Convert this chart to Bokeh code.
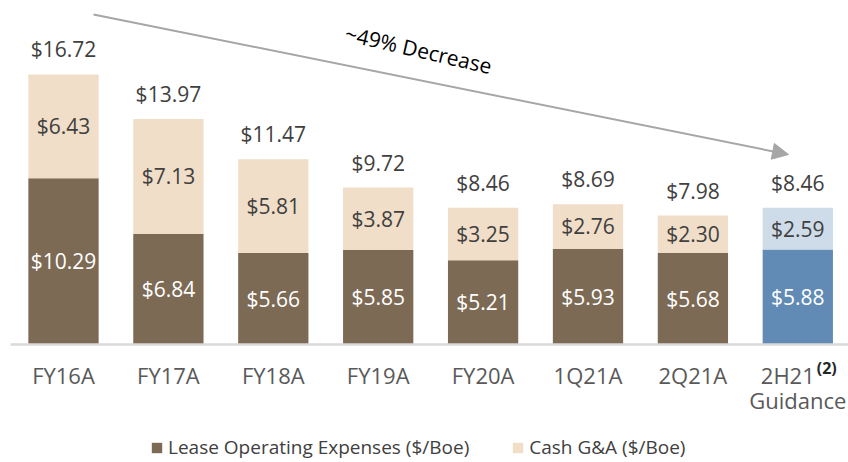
from bokeh.plotting import figure
from bokeh.models import ColumnDataSource, Range1d, Arrow, NormalHead, Legend, LegendItem, Label
from bokeh.embed import file_html
from bokeh.resources import INLINE
from bokeh.core.properties import value

categories = ["FY16A", "FY17A", "FY18A", "FY19A", "FY20A", "1Q21A", "2Q21A", "2H21"]
loe = [10.29, 6.84, 5.66, 5.85, 5.21, 5.93, 5.68, 5.88]
cash_ga = [6.43, 7.13, 5.81, 3.87, 3.25, 2.76, 2.30, 2.59]
totals = [16.72, 13.97, 11.47, 9.72, 8.46, 8.69, 7.98, 8.46]

BROWN = "#7D6A55"
BEIGE = "#F1DEC8"
BLUE = "#618BB5"
LBLUE = "#CEDCE9"
FONT = "Open Sans"

n = len(categories)
xs = list(range(n))
loe_col = [BROWN] * (n - 1) + [BLUE]
ga_col = [BEIGE] * (n - 1) + [LBLUE]
src = ColumnDataSource(dict(
    x=xs, loe=loe, ga=cash_ga,
    ga_top=[a + b for a, b in zip(loe, cash_ga)],
    loe_mid=[a / 2 for a in loe],
    ga_mid=[a + b / 2 for a, b in zip(loe, cash_ga)],
    total=totals,
    loe_lbl=["$%.2f" % v for v in loe],
    ga_lbl=["$%.2f" % v for v in cash_ga],
    tot_lbl=["$%.2f" % v for v in totals],
    loe_col=loe_col, ga_col=ga_col,
))

W, H = 848, 462
px_per_cat = 104.9
first_center = 63.0
x0 = -first_center / px_per_cat
x1 = x0 + W / px_per_cat
base_y = 344
px_per_unit = 16.15
y0 = -(H - base_y) / px_per_unit
y1 = base_y / px_per_unit

def sx(px):
    return x0 + px / px_per_cat

def sy(py):
    return (base_y - py) / px_per_unit

p = figure(width=W, height=H, output_backend="svg", toolbar_location=None,
           x_range=Range1d(x0, x1), y_range=Range1d(y0, y1),
           min_border=0)
p.xaxis.visible = False
p.yaxis.visible = False
p.grid.visible = False
p.outline_line_color = None
p.background_fill_color = "white"
p.border_fill_color = "white"

r1 = p.vbar(x="x", top="loe", bottom=0, width=0.67, source=src,
            fill_color="loe_col", line_color=None)
r2 = p.vbar(x="x", top="ga_top", bottom="loe", width=0.67, source=src,
            fill_color="ga_col", line_color=None)

p.segment(x0=[sx(10)], y0=[0], x1=[sx(848)], y1=[0], line_color="#D9D9D9", line_width=2.5)

p.text(x="x", y="loe_mid", text="loe_lbl", source=src, text_align="center",
       text_baseline="middle", text_color="white", text_font=value(FONT),
       text_font_size="21px")
p.text(x="x", y="ga_mid", text="ga_lbl", source=src, text_align="center",
       text_baseline="middle", text_color="#404040", text_font=value(FONT),
       text_font_size="21px")
p.text(x="x", y="total", text="tot_lbl", source=src, text_align="center",
       text_baseline="middle", y_offset=-25, text_color="#404040",
       text_font=value(FONT), text_font_size="21px")

# category labels
cat_src = ColumnDataSource(dict(x=xs[:-1], cat=categories[:-1]))
p.text(x="x", y=0, text="cat", source=cat_src, text_align="center",
       text_baseline="middle", y_offset=30, text_color="#595959",
       text_font=value(FONT), text_font_size="22px")
last_src = ColumnDataSource(dict(x=[xs[-1]], cat=[categories[-1]], g=["Guidance"], s=["(2)"]))
p.text(x="x", y=0, text="cat", source=last_src, text_align="center",
       text_baseline="middle", x_offset=-10, y_offset=30, text_color="#595959",
       text_font=value(FONT), text_font_size="22px")
p.text(x="x", y=0, text="s", source=last_src, text_align="left",
       text_baseline="middle", x_offset=19, y_offset=23, text_color="#262626",
       text_font=value(FONT), text_font_size="16px", text_font_style="bold")
p.text(x="x", y=0, text="g", source=last_src, text_align="center",
       text_baseline="middle", y_offset=55, text_color="#595959",
       text_font=value(FONT), text_font_size="22px")

# arrow annotation
p.add_layout(Arrow(x_start=sx(93), y_start=sy(14), x_end=sx(788), y_end=sy(154),
                   line_color="#A6A6A6", line_width=2,
                   end=NormalHead(size=16, fill_color="#A6A6A6", line_color="#A6A6A6")))
p.add_layout(Label(x=sx(418), y=sy(49),
                   text="~49% Decrease", text_align="center", text_baseline="middle",
                   angle=-13, angle_units="deg", text_color="black",
                   text_font=FONT, text_font_size="21px"))

legend = Legend(items=[
    LegendItem(label="Lease Operating Expenses ($/Boe)", renderers=[r1], index=0),
    LegendItem(label="Cash G&A ($/Boe)", renderers=[r2], index=0),
], orientation="horizontal", location=(150, 2),
    label_text_font=FONT, label_text_font_size="19px", label_text_color="#404040",
    glyph_width=13, glyph_height=13, label_standoff=5, spacing=42,
    border_line_color=None, background_fill_alpha=0, padding=0, margin=0)
p.add_layout(legend, "center")

open("out.html", "w").write(file_html(p, INLINE))
